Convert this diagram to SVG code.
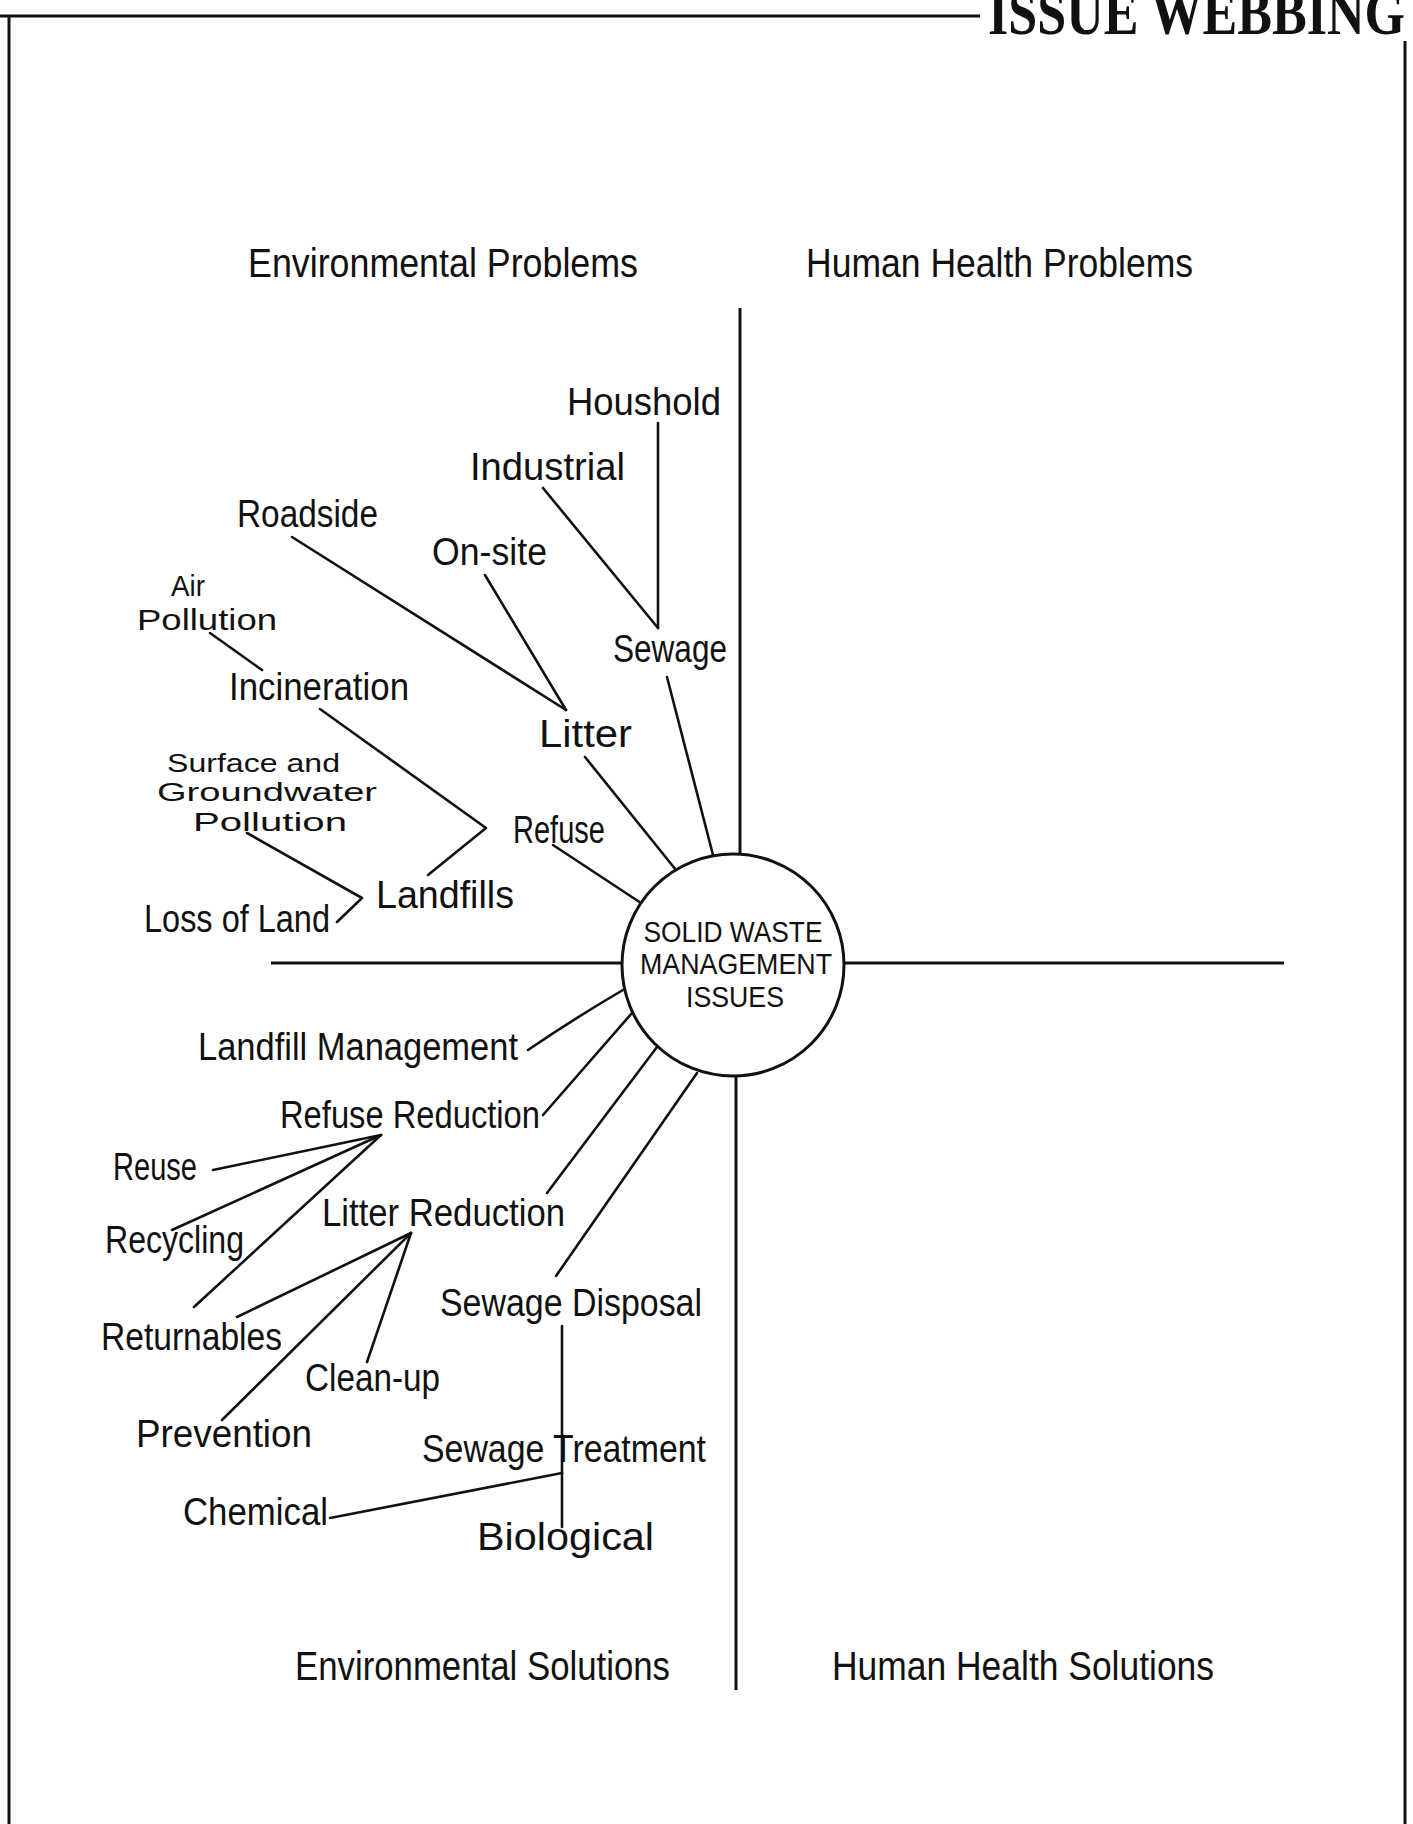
<svg xmlns="http://www.w3.org/2000/svg" width="1413" height="1824" viewBox="0 0 1413 1824">
<style>
.t{font-family:"Liberation Sans","DejaVu Sans",sans-serif;font-size:38px;fill:#111;}
.s{font-family:"Liberation Sans","DejaVu Sans",sans-serif;font-size:29px;fill:#111;}
.s2{font-family:"Liberation Sans","DejaVu Sans",sans-serif;font-size:26px;fill:#111;}
.h{font-family:"Liberation Sans","DejaVu Sans",sans-serif;font-size:40px;fill:#111;}
.c{font-family:"Liberation Sans","DejaVu Sans",sans-serif;font-size:29px;fill:#111;text-anchor:middle;}
.ttl{font-family:"Liberation Serif","DejaVu Serif",serif;font-size:64px;font-weight:bold;fill:#111;}
.frame{stroke:#111;stroke-width:3;fill:none;}
.axis{stroke:#111;stroke-width:3;fill:none;}
.con{stroke:#111;stroke-width:2.6;fill:none;stroke-linecap:round;stroke-linejoin:round;}
</style>
<rect x="0" y="0" width="1413" height="1824" fill="#fff"/>
<g id="frame">
<line class="frame" x1="0" y1="16" x2="980" y2="16"/>
<line class="frame" x1="9" y1="16" x2="9" y2="1824"/>
<line class="frame" x1="1405" y1="41" x2="1405" y2="1824"/>
<text class="ttl" x="988" y="34" textLength="417" lengthAdjust="spacingAndGlyphs">ISSUE WEBBING</text>
</g>
<g id="axes">
<line class="axis" x1="271" y1="963" x2="622" y2="963"/>
<line class="axis" x1="844" y1="963" x2="1284" y2="963"/>
<line class="axis" x1="740" y1="308" x2="740" y2="854"/>
<line class="axis" x1="736" y1="1076" x2="736" y2="1690"/>
</g>
<g id="connectors">
<line class="con" x1="658" y1="423" x2="658" y2="628"/>
<line class="con" x1="543" y1="488" x2="658" y2="628"/>
<line class="con" x1="667" y1="677" x2="713" y2="855"/>
<line class="con" x1="292" y1="537" x2="566" y2="710"/>
<line class="con" x1="485" y1="575" x2="566" y2="710"/>
<line class="con" x1="585" y1="757" x2="676" y2="870"/>
<line class="con" x1="210" y1="633" x2="262" y2="670"/>
<polyline class="con" points="320,709 486,828 428,875"/>
<line class="con" x1="553" y1="845" x2="641" y2="903"/>
<polyline class="con" points="247,833 362,898 337,922"/>
<path class="con" d="M528,1050 Q575,1018 623,990"/>
<line class="con" x1="543" y1="1115" x2="632" y2="1013"/>
<line class="con" x1="213" y1="1170" x2="381" y2="1135"/>
<line class="con" x1="172" y1="1230" x2="381" y2="1135"/>
<line class="con" x1="381" y1="1135" x2="194" y2="1307"/>
<line class="con" x1="547" y1="1193" x2="657" y2="1047"/>
<line class="con" x1="411" y1="1233" x2="237" y2="1317"/>
<line class="con" x1="411" y1="1233" x2="222" y2="1420"/>
<line class="con" x1="411" y1="1233" x2="367" y2="1362"/>
<line class="con" x1="556" y1="1276" x2="697" y2="1073"/>
<line class="con" x1="562" y1="1326" x2="562" y2="1527"/>
<line class="con" x1="330" y1="1518" x2="562" y2="1473"/>
</g>
<g id="hub">
<circle cx="733" cy="965" r="111" fill="#fff" stroke="#111" stroke-width="3"/>
<text class="c" x="733" y="942" textLength="179" lengthAdjust="spacingAndGlyphs">SOLID WASTE</text>
<text class="c" x="736" y="974" textLength="192" lengthAdjust="spacingAndGlyphs">MANAGEMENT</text>
<text class="c" x="735" y="1007" textLength="98" lengthAdjust="spacingAndGlyphs">ISSUES</text>
</g>
<g id="q-env-problems"><text class="h" x="248" y="277" textLength="390" lengthAdjust="spacingAndGlyphs">Environmental Problems</text></g>
<g id="q-health-problems"><text class="h" x="806" y="277" textLength="387" lengthAdjust="spacingAndGlyphs">Human Health Problems</text></g>
<g id="q-env-solutions"><text class="h" x="295" y="1680" textLength="375" lengthAdjust="spacingAndGlyphs">Environmental Solutions</text></g>
<g id="q-health-solutions"><text class="h" x="832" y="1680" textLength="382" lengthAdjust="spacingAndGlyphs">Human Health Solutions</text></g>
<g id="n-houshold"><text class="t" x="567" y="415" textLength="154" lengthAdjust="spacingAndGlyphs">Houshold</text></g>
<g id="n-industrial"><text class="t" x="470" y="480" textLength="155" lengthAdjust="spacingAndGlyphs">Industrial</text></g>
<g id="n-sewage"><text class="t" x="613" y="662" textLength="114" lengthAdjust="spacingAndGlyphs">Sewage</text></g>
<g id="n-roadside"><text class="t" x="237" y="527" textLength="141" lengthAdjust="spacingAndGlyphs">Roadside</text></g>
<g id="n-onsite"><text class="t" x="432" y="565" textLength="115" lengthAdjust="spacingAndGlyphs">On-site</text></g>
<g id="n-air-pollution">
<text class="s" x="171" y="596" textLength="34" lengthAdjust="spacingAndGlyphs">Air</text>
<text class="s" x="137" y="630" textLength="140" lengthAdjust="spacingAndGlyphs">Pollution</text>
</g>
<g id="n-incineration"><text class="t" x="229" y="700" textLength="180" lengthAdjust="spacingAndGlyphs">Incineration</text></g>
<g id="n-litter"><text class="t" x="539" y="747" textLength="93" lengthAdjust="spacingAndGlyphs">Litter</text></g>
<g id="n-surface">
<text class="s2" x="167" y="772" textLength="173" lengthAdjust="spacingAndGlyphs">Surface and</text>
<text class="s2" x="157" y="801" textLength="220" lengthAdjust="spacingAndGlyphs">Groundwater</text>
<text class="s2" x="193" y="831" textLength="154" lengthAdjust="spacingAndGlyphs">Pollution</text>
</g>
<g id="n-refuse"><text class="t" x="513" y="843" textLength="92" lengthAdjust="spacingAndGlyphs">Refuse</text></g>
<g id="n-landfills"><text class="t" x="376" y="908" textLength="138" lengthAdjust="spacingAndGlyphs">Landfills</text></g>
<g id="n-lossofland"><text class="t" x="144" y="932" textLength="186" lengthAdjust="spacingAndGlyphs">Loss of Land</text></g>
<g id="n-landfill-mgmt"><text class="t" x="198" y="1060" textLength="320" lengthAdjust="spacingAndGlyphs">Landfill Management</text></g>
<g id="n-refuse-red"><text class="t" x="280" y="1128" textLength="260" lengthAdjust="spacingAndGlyphs">Refuse Reduction</text></g>
<g id="n-reuse"><text class="t" x="113" y="1180" textLength="84" lengthAdjust="spacingAndGlyphs">Reuse</text></g>
<g id="n-recycling"><text class="t" x="105" y="1253" textLength="139" lengthAdjust="spacingAndGlyphs">Recycling</text></g>
<g id="n-litter-red"><text class="t" x="322" y="1226" textLength="243" lengthAdjust="spacingAndGlyphs">Litter Reduction</text></g>
<g id="n-returnables"><text class="t" x="101" y="1350" textLength="181" lengthAdjust="spacingAndGlyphs">Returnables</text></g>
<g id="n-cleanup"><text class="t" x="305" y="1391" textLength="135" lengthAdjust="spacingAndGlyphs">Clean-up</text></g>
<g id="n-prevention"><text class="t" x="136" y="1447" textLength="176" lengthAdjust="spacingAndGlyphs">Prevention</text></g>
<g id="n-sewage-disp"><text class="t" x="440" y="1316" textLength="262" lengthAdjust="spacingAndGlyphs">Sewage Disposal</text></g>
<g id="n-sewage-treat"><text class="t" x="422" y="1462" textLength="284" lengthAdjust="spacingAndGlyphs">Sewage Treatment</text></g>
<g id="n-chemical"><text class="t" x="183" y="1525" textLength="145" lengthAdjust="spacingAndGlyphs">Chemical</text></g>
<g id="n-biological"><text class="t" x="477" y="1550" textLength="177" lengthAdjust="spacingAndGlyphs">Biological</text></g>
</svg>
